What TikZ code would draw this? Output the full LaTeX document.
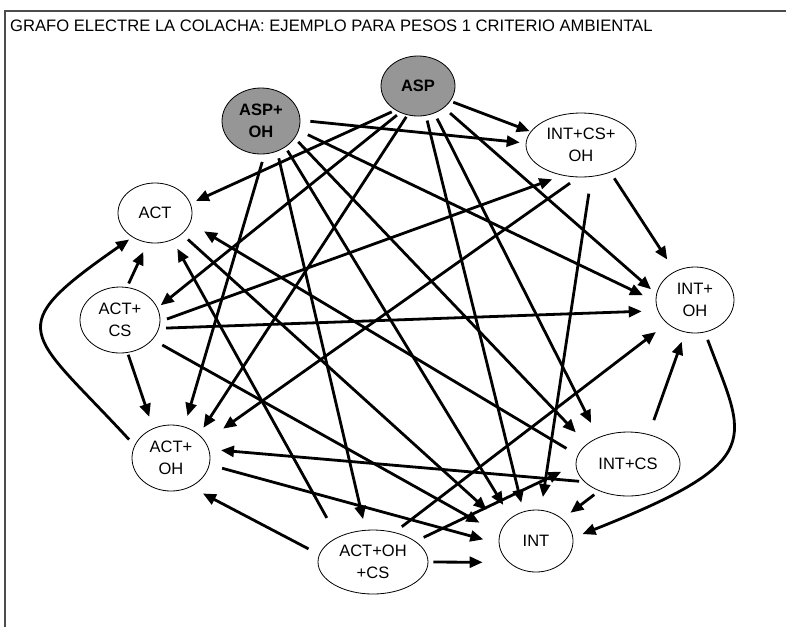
\documentclass[tikz,border=0pt]{standalone}
\usepackage{fontspec}
\setmainfont{Liberation Sans}
\usetikzlibrary{arrows.meta,shapes.geometric,positioning,calc}

\begin{document}
\begin{tikzpicture}[x=1pt,y=-1pt,
    estado/.style={ellipse,draw,line width=0.8pt,inner sep=0pt,align=center,font=\fontsize{16.5}{22}\selectfont},
    peso/.style={estado,fill=black!41,font=\fontsize{16.5}{22}\selectfont\bfseries},
    flecha/.style={line width=2.8pt,-{Triangle[length=13pt,width=11pt]}}]
  \useasboundingbox (0,0) rectangle (786,627);
  % marco y titulo
  \draw[black!70,line width=1.3pt] (5,627) -- (5,11) -- (786,11);
  \node[anchor=base west,inner sep=0pt,font=\fontsize{16.6}{19}\selectfont] (titulo) at (10,31)
    {GRAFO ELECTRE LA COLACHA: EJEMPLO PARA PESOS 1 CRITERIO AMBIENTAL};
  % alternativas
  \node[peso,minimum width=74pt,minimum height=60pt] (asp) at (418,86) {ASP};
  \node[peso,minimum width=78pt,minimum height=66pt] (ao) at (261,121) {ASP+\\OH};
  \node[estado,minimum width=110pt,minimum height=64pt] (ico) at (581,145) {INT+CS+\\OH};
  \node[estado,minimum width=74pt,minimum height=60pt] (act) at (155,213) {ACT};
  \node[estado,minimum width=80pt,minimum height=66pt] (ac) at (120,320) {ACT+\\CS};
  \node[estado,minimum width=78pt,minimum height=66pt] (io) at (695,300) {INT+\\OH};
  \node[estado,minimum width=78pt,minimum height=66pt] (aoh) at (171,458) {ACT+\\OH};
  \node[estado,minimum width=104pt,minimum height=64pt] (ic) at (628,464) {INT+CS};
  \node[estado,minimum width=74pt,minimum height=62pt] (int) at (536,541) {INT};
  \node[estado,minimum width=110pt,minimum height=64pt] (aoc) at (373,562) {ACT+OH\\+CS};
  % relaciones de superacion
  \foreach \a/\b/\s/\e in {
      asp.-25/ico.165/3pt/1pt, asp.-133/act.15/4pt/6pt, asp.-124/ac.18/4pt/4pt,
      asp.-110/aoh.40/2pt/8pt, asp.-75/int.113/5pt/9pt, asp.-59/ic.138/6pt/16pt,
      asp.-40/io.171/8pt/7pt,
      ao.1/ico.178/10pt/6pt, ao.-14/io.182/10pt/14pt, ao.-27/ic.154/5pt/16pt,
      ao.-47/int.137/4pt/15pt, ao.-62/aoc.103/7pt/11pt, ao.-84/aoh.67/8pt/11pt,
      ico.-43/io.125/7pt/14pt, ico.-72/int.81/17pt/13pt, ico.-95/aoh.26/10pt/22pt,
      act.-38/int.154/8pt/23pt,
      ac.78/act.-104/4pt/10pt, ac.-77/aoh.121/2pt/12pt, ac.-2/ico.-121/7pt/11pt,
      ac.-12/io.196/7pt/16pt, ac.-31/int.169/11pt/23pt,
      aoh.-10/int.184/13pt/16pt,
      ic.202/aoh.13/5pt/12pt, ic.170/act.-16/13pt/16pt, ic.-137/int.40/6pt/10pt,
      ic.55/io.-107/15pt/10pt,
      aoc.145/act.-57/22pt/10pt, aoc.172/aoh.-56/12pt/14pt, aoc.0/int.218/5pt/26pt,
      aoc.26/ic.181/9pt/16pt, aoc.54/io.220/9pt/14pt}
    \draw[flecha,shorten <=\s,shorten >=\e] (\a) -- (\b);
  % las dos curvas
  \draw[flecha,shorten <=8pt,shorten >=4pt] (aoh.161) .. controls (28,330) and (-1,330) .. (act.-133);
  \draw[flecha,shorten <=8pt,shorten >=10pt] (io.-73) .. controls (745,440) and (770,460) .. (int.5);
\end{tikzpicture}
\end{document}
